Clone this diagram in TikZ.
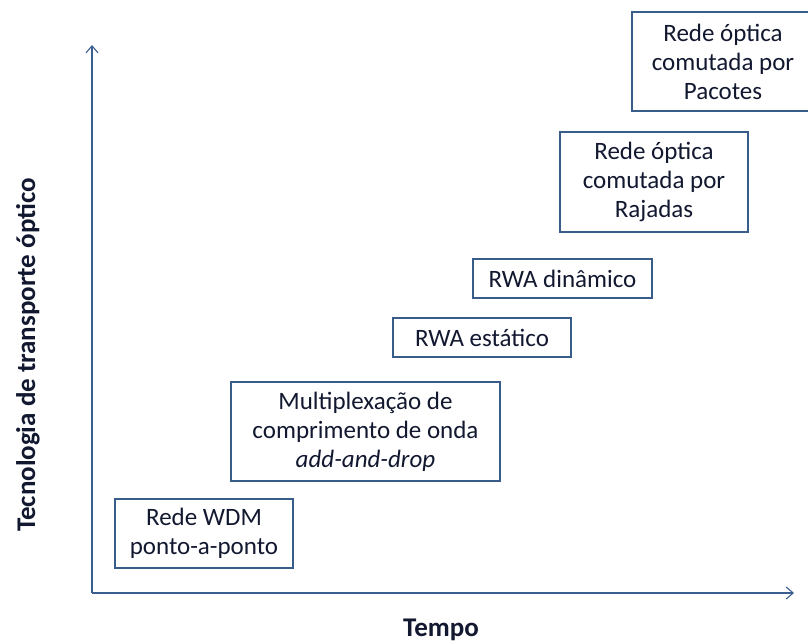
\documentclass[tikz,border=0pt]{standalone}
\usepackage{fontspec}
\setmainfont{Carlito}
\usetikzlibrary{arrows.meta}
\definecolor{boxline}{RGB}{56,93,138}
\definecolor{axisline}{RGB}{59,94,145}
\definecolor{txt}{RGB}{18,24,48}
\tikzset{
  era/.style={draw=boxline, line width=2.8pt, fill=white, align=center,
    text=txt, font=\fontsize{25}{29}\selectfont, inner sep=0pt},
  axis/.style={draw=axisline, line width=1.1pt,
    -{Straight Barb[length=7pt,width=12pt,line width=1.1pt]}},
  axislabel/.style={text=txt, font=\fontsize{27}{32}\selectfont\bfseries}
}
\begin{document}
\begin{tikzpicture}[x=1pt,y=-1pt]
  \useasboundingbox (0,0) rectangle (808,642);
  \clip (0,0) rectangle (808,642);
  \fill[white] (0,0) rectangle (808,642);

  % axes
  \coordinate (origin) at (92,593);
  \coordinate (ytip) at (92,45);
  \coordinate (xtip) at (794,593);
  \draw[axis] (origin) -- (ytip);
  \draw[axis] (origin) -- (xtip);

  \node[axislabel, rotate=90] (ylab) at (28,355) {Tecnologia de transporte óptico};
  \node[axislabel] (xlab) at (441,630) {Tempo};

  % technology stages
  \node[era, minimum width=182, minimum height=99] (pacotes) at (723,61.5)
    {Rede óptica\\comutada por\\Pacotes};
  \node[era, minimum width=188, minimum height=100] (rajadas) at (654,182)
    {Rede óptica\\comutada por\\Rajadas};
  \node[era, minimum width=179, minimum height=39] (dinamico) at (562.5,278.5)
    {RWA dinâmico};
  \node[era, minimum width=178, minimum height=39] (estatico) at (482,337.5)
    {RWA estático};
  \node[era, minimum width=269, minimum height=99] (adddrop) at (365.5,431.5)
    {Multiplexação de\\comprimento de onda\\\textit{add-and-drop}};
  \node[era, minimum width=178, minimum height=69] (wdm) at (204,533.5)
    {Rede WDM\\ponto-a-ponto};
\end{tikzpicture}
\end{document}
